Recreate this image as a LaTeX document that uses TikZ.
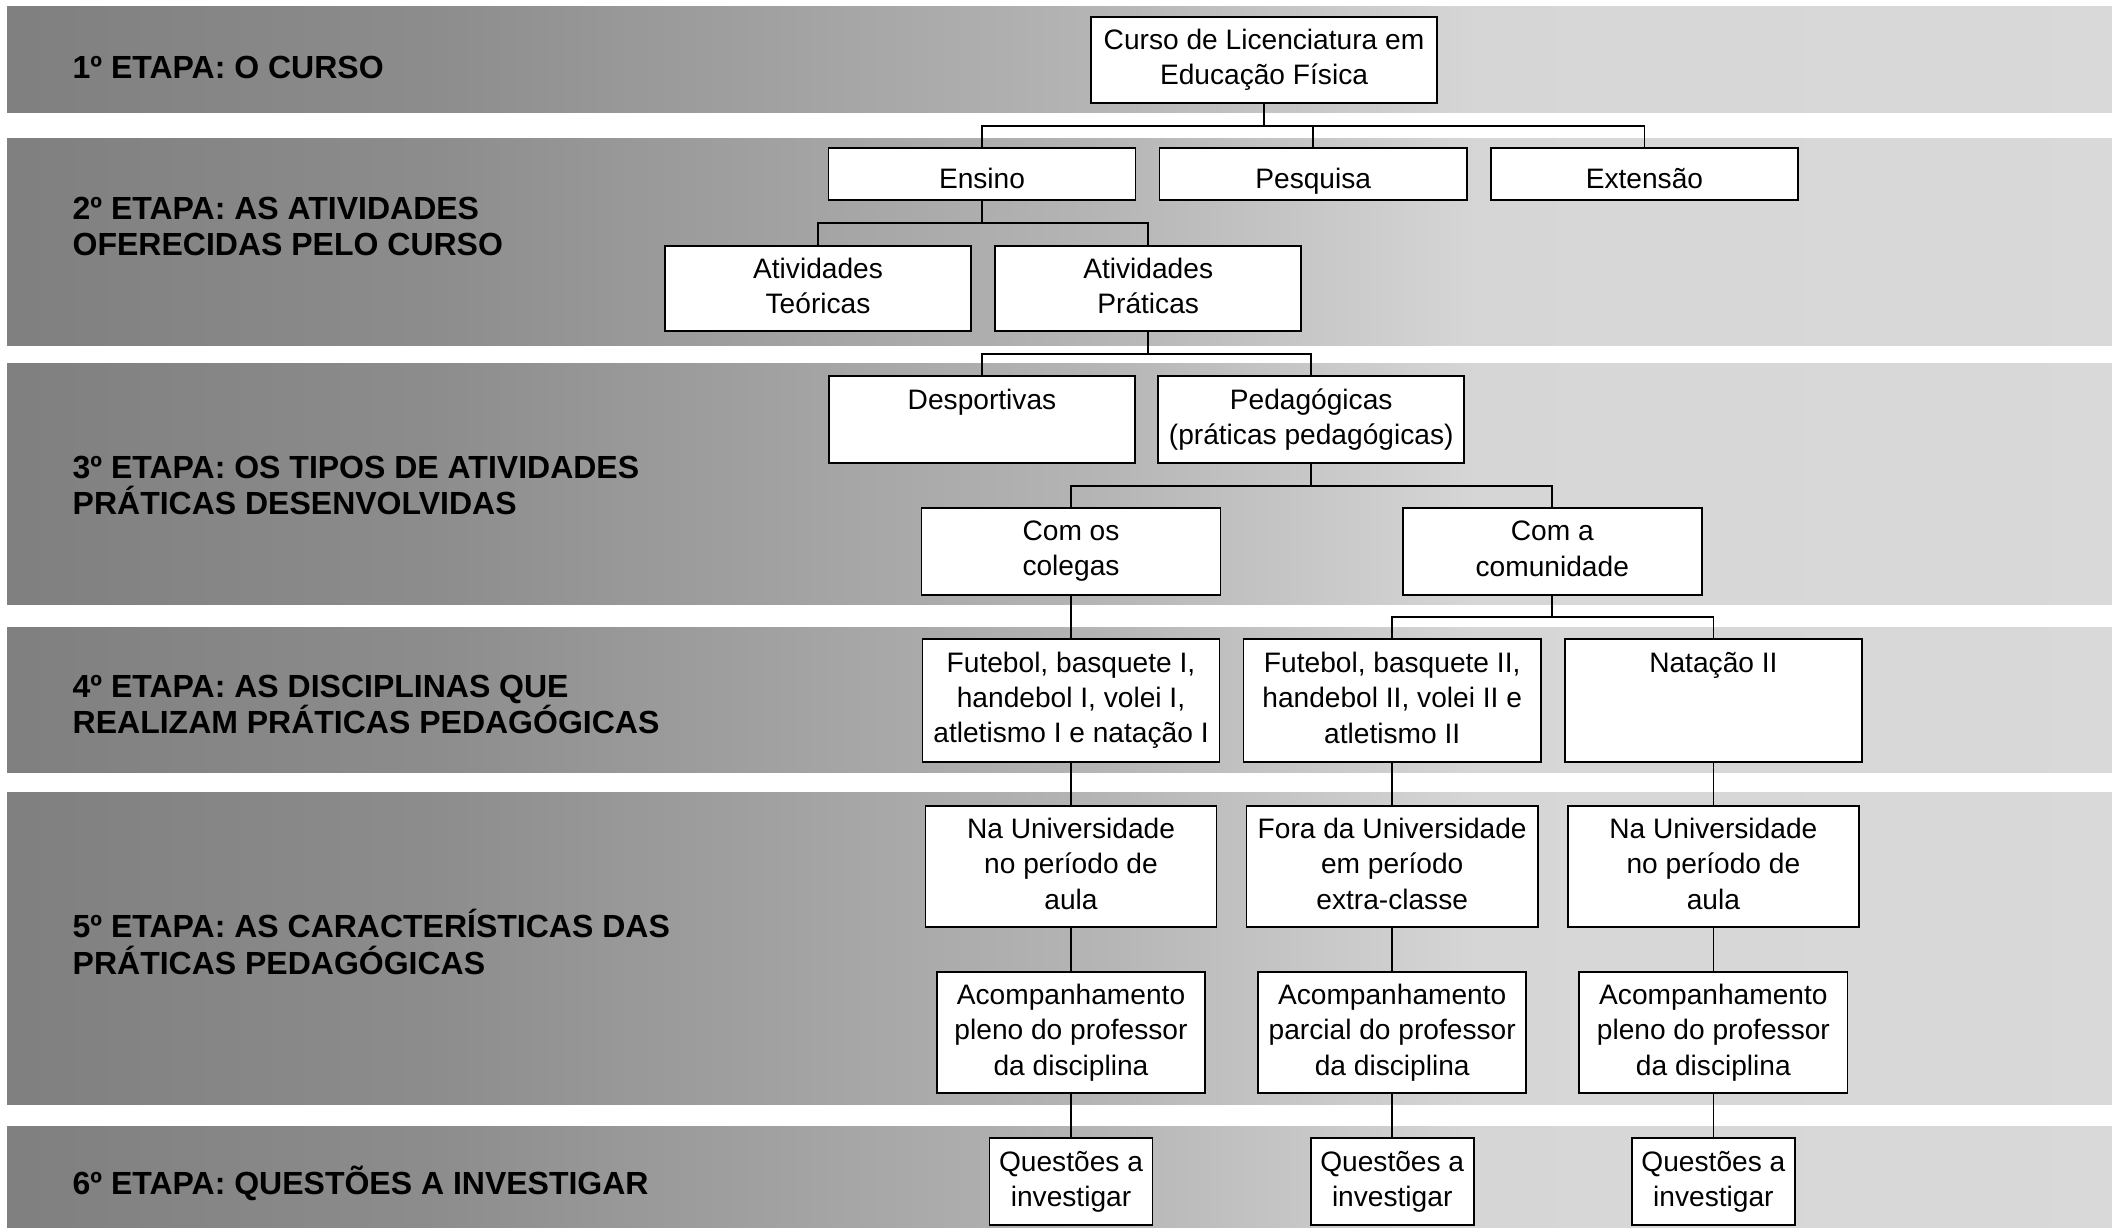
\documentclass[tikz,border=0pt]{standalone}
\usepackage{fontspec}
\setmainfont{Liberation Sans}

\pgfdeclarehorizontalshading{faixa}{100bp}{color(0bp)=(black!50); color(25bp)=(black!50); color(35bp)=(black!45); color(51bp)=(black!29); color(60bp)=(black!16); color(75bp)=(black!15); color(100bp)=(black!15)}

\newcommand{\fonteetapa}{\fontsize{9.1}{10.25}\selectfont\bfseries}
\newcommand{\fontecaixa}{\fontsize{8}{10}\selectfont}
\newcommand{\apoiotopo}{\rule{0pt}{9.8pt}}
\newcommand{\apoiobase}{\rule[-1.6pt]{0pt}{1.6pt}}

\begin{document}
\begin{tikzpicture}[x=0.01cm, y=-0.01cm, node distance=3.21cm,
		etapa/.style={shading=faixa},
		titulo/.style={anchor=base west, align=left, inner sep=0pt, font=\fonteetapa},
		caixa/.style={draw, fill=white, line width=0.5pt, align=center, inner sep=0pt, font=\fontecaixa,
			execute at begin node=\apoiotopo, execute at end node=\apoiobase},
		disciplina/.style={caixa, minimum width=2.97cm, minimum height=1.23cm},
		local/.style={caixa, minimum width=2.91cm, minimum height=1.21cm},
		acomp/.style={caixa, minimum width=2.68cm, minimum height=1.21cm},
		questao/.style={caixa, minimum width=1.63cm, minimum height=0.87cm},
		linha/.style={line width=0.5pt}]
			\useasboundingbox (0,0) rectangle (2112,1228);
			
			% faixas das etapas
			\shade[etapa] (7,7) rectangle (2112,113);
			\shade[etapa] (7,139) rectangle (2112,346);
			\shade[etapa] (7,364) rectangle (2112,605);
			\shade[etapa] (7,628) rectangle (2112,773);
			\shade[etapa] (7,792) rectangle (2112,1104);
			\shade[etapa] (7,1126) rectangle (2112,1228);
			
			% base = ultima linha do titulo
			\node (e1) [titulo] at (72,79) {1º ETAPA: O CURSO};
			\node (e2) [titulo] at (72,256) {2º ETAPA: AS ATIVIDADES\\OFERECIDAS PELO CURSO};
			\node (e3) [titulo] at (72,515) {3º ETAPA: OS TIPOS DE ATIVIDADES\\PRÁTICAS DESENVOLVIDAS};
			\node (e4) [titulo] at (72,734) {4º ETAPA: AS DISCIPLINAS QUE\\REALIZAM PRÁTICAS PEDAGÓGICAS};
			\node (e5) [titulo] at (72,974) {5º ETAPA: AS CARACTERÍSTICAS DAS\\PRÁTICAS PEDAGÓGICAS};
			\node (e6) [titulo] at (72,1194) {6º ETAPA: QUESTÕES A INVESTIGAR};
			
			% caixas
			\node (curso) [caixa, minimum width=3.46cm, minimum height=0.86cm] at (1264,60) {Curso de Licenciatura em\\Educação Física};
			
			\node (ensino) [caixa, minimum width=3.07cm, minimum height=0.52cm] at (982,174) {Ensino};
			\node (pesquisa) [caixa, minimum width=3.07cm, minimum height=0.52cm, right of=ensino, node distance=3.31cm] {Pesquisa};
			\node (extensao) [caixa, minimum width=3.07cm, minimum height=0.52cm, right of=pesquisa, node distance=3.31cm] {Extensão};
			
			\node (teoricas) [caixa, minimum width=3.06cm, minimum height=0.85cm] at (818,288.5) {Atividades\\Teóricas};
			\node (praticas) [caixa, minimum width=3.06cm, minimum height=0.85cm, right of=teoricas, node distance=3.30cm] {Atividades\\Práticas};
			
			\node (desportivas) [caixa, minimum width=3.06cm, minimum height=0.87cm] at (982,419.5) {Desportivas\\~};
			\node (pedagogicas) [caixa, minimum width=3.06cm, minimum height=0.87cm, right of=desportivas, node distance=3.29cm] {Pedagógicas\\(práticas pedagógicas)};
			
			\node (colegas) [caixa, minimum width=2.99cm, minimum height=0.87cm] at (1071,551.5) {Com os\\colegas};
			\node (comunidade) [caixa, minimum width=2.99cm, minimum height=0.87cm, right of=colegas, node distance=4.81cm] {Com a\\comunidade};
			
			\node (disc1) [disciplina] at (1071,700.5) {Futebol, basquete I,\\handebol I, volei I,\\atletismo I e natação I};
			\node (disc2) [disciplina, right of=disc1] {Futebol, basquete II,\\handebol II, volei II e\\atletismo II};
			\node (disc3) [disciplina, right of=disc2] {Natação II\\~\\~};
			
			\node (local1) [local, below of=disc1, node distance=1.66cm] {Na Universidade\\no período de\\aula};
			\node (local2) [local, below of=disc2, node distance=1.66cm] {Fora da Universidade\\em período\\extra-classe};
			\node (local3) [local, below of=disc3, node distance=1.66cm] {Na Universidade\\no período de\\aula};
			
			\node (acomp1) [acomp, below of=local1, node distance=1.66cm] {Acompanhamento\\pleno do professor\\da disciplina};
			\node (acomp2) [acomp, below of=local2, node distance=1.66cm] {Acompanhamento\\parcial do professor\\da disciplina};
			\node (acomp3) [acomp, below of=local3, node distance=1.66cm] {Acompanhamento\\pleno do professor\\da disciplina};
			
			\node (quest1) [questao, below of=acomp1, node distance=1.49cm] {Questões a\\investigar};
			\node (quest2) [questao, below of=acomp2, node distance=1.49cm] {Questões a\\investigar};
			\node (quest3) [questao, below of=acomp3, node distance=1.49cm] {Questões a\\investigar};
			
			% ligacoes
			\coordinate (b1) at (0,126);
			\coordinate (b2) at (0,223);
			\coordinate (b3) at (0,354);
			\coordinate (b4) at (0,486);
			\coordinate (b5) at (0,617);
			
			\draw[linha] (curso.south) -- (curso.south |- b1);
			\draw[linha] (ensino.north) |- (extensao.north |- b1) -- (extensao.north);
			\draw[linha] (pesquisa.north) -- (pesquisa.north |- b1);
			
			\draw[linha] (ensino.south) -- (ensino.south |- b2);
			\draw[linha] (teoricas.north) |- (praticas.north |- b2) -- (praticas.north);
			
			\draw[linha] (praticas.south) -- (praticas.south |- b3);
			\draw[linha] (desportivas.north) |- (pedagogicas.north |- b3) -- (pedagogicas.north);
			
			\draw[linha] (pedagogicas.south) -- (pedagogicas.south |- b4);
			\draw[linha] (colegas.north) |- (comunidade.north |- b4) -- (comunidade.north);
			
			\draw[linha] (colegas.south) -- (disc1.north);
			\draw[linha] (comunidade.south) -- (comunidade.south |- b5);
			\draw[linha] (disc2.north) |- (disc3.north |- b5) -- (disc3.north);
			
			\draw[linha] (disc1) -- (local1);
			\draw[linha] (disc2) -- (local2);
			\draw[linha] (disc3) -- (local3);
			\draw[linha] (local1) -- (acomp1);
			\draw[linha] (local2) -- (acomp2);
			\draw[linha] (local3) -- (acomp3);
			\draw[linha] (acomp1) -- (quest1);
			\draw[linha] (acomp2) -- (quest2);
			\draw[linha] (acomp3) -- (quest3);
		\end{tikzpicture}
\end{document}
